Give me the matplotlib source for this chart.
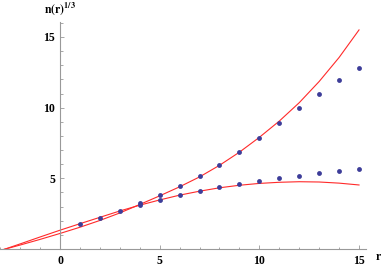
import matplotlib
matplotlib.use("Agg")
import matplotlib.pyplot as plt
from matplotlib.ticker import MultipleLocator, FixedLocator

curve_r = [-3, -2, -1, 0, 1, 2, 3, 4, 5, 6, 7, 8, 9, 10, 11, 12, 13, 14, 15]
curve_convex = [-0.10, 0.28, 0.68, 1.10, 1.54, 2.02, 2.55, 3.15, 3.76, 4.40, 5.10,
                5.92, 6.85, 7.90, 9.05, 10.35, 11.85, 13.55, 15.50]
curve_concave = [-0.12, 0.36, 0.85, 1.33, 1.79, 2.24, 2.69, 3.10, 3.47, 3.81, 4.09,
                 4.33, 4.51, 4.64, 4.72, 4.76, 4.74, 4.66, 4.53]

# Data points
upper_r = [1, 2, 3, 4, 5, 6, 7, 8, 9, 10, 11, 12, 13, 14, 15]
upper_n = [1.75, 2.22, 2.71, 3.23, 3.80, 4.44, 5.14, 5.97, 6.89, 7.88, 8.89, 9.95,
           10.99, 11.96, 12.79]
lower_r = [4, 5, 6, 7, 8, 9, 10, 11, 12, 13, 14, 15]
lower_n = [3.09, 3.47, 3.80, 4.08, 4.37, 4.60, 4.81, 5.00, 5.19, 5.36, 5.52, 5.66]

x_major = [0, 5, 10, 15]
y_major = [5, 10, 15]

W, H = 382, 266
fig = plt.figure(figsize=(W / 100, H / 100), dpi=100)
ax = fig.add_axes([0, (H - 249) / H, 366 / W, (249 - 22) / H])
ax.set_xlim(-3.01, 15.35)
ax.set_ylim(0, 16.06)

red = "#ff2a2a"
ax.plot(curve_r, curve_convex, color=red, lw=0.8, zorder=2)
ax.plot(curve_r, curve_concave, color=red, lw=0.8, zorder=2)
pt = "#3d3d99"
ax.plot(upper_r, upper_n, "o", color=pt, ms=3.5, mew=0, zorder=3)
ax.plot(lower_r, lower_n, "o", color=pt, ms=3.5, mew=0, zorder=3)

for s in ["top", "right"]:
    ax.spines[s].set_visible(False)
ax.spines["left"].set_position(("data", 0))
ax.spines["bottom"].set_position(("data", 0))
for s in ["left", "bottom"]:
    ax.spines[s].set_color("#999999")
    ax.spines[s].set_linewidth(0.8)

ax.xaxis.set_major_locator(FixedLocator(x_major))
ax.xaxis.set_minor_locator(MultipleLocator(1))
ax.yaxis.set_major_locator(FixedLocator(y_major))
ax.yaxis.set_minor_locator(MultipleLocator(1))
ax.tick_params(which="both", direction="in", color="#999999", width=0.6)
ax.tick_params(which="major", length=3.2)
ax.tick_params(which="minor", length=1.8)
ax.tick_params(axis="x", which="major", pad=4.5)
ax.tick_params(axis="y", which="major", pad=3.5)
font = dict(family="Liberation Serif", weight="bold", size=8.5)
ax.set_xticklabels([str(v) for v in x_major], **font)
ax.set_yticklabels([str(v) for v in y_major], **font)

fig.text(60 / W, 1 - 9 / H, r"$\mathbf{n(r)^{1/3}}$", ha="center", va="center",
         fontsize=8.5, math_fontfamily="stix")
fig.text(378 / W, 1 - 257 / H, "r", ha="center", va="center", **font)

fig.savefig("out.png", dpi=100)
